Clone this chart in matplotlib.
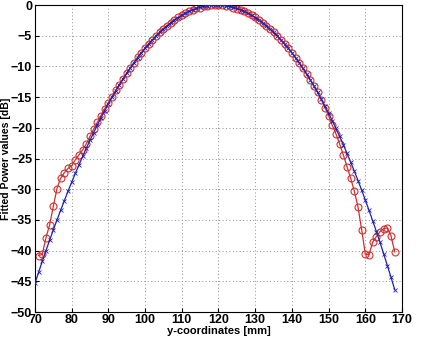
import matplotlib
matplotlib.use("Agg")
import matplotlib.pyplot as plt

# ---------------------------------------------------------
# DATA
# ---------------------------------------------------------

# fitted curve, 70..168 mm every 1 mm
fit_x = list(range(70, 169))
fit_db = [
    -45.33, -43.52, -41.74, -40.00, -38.30, -36.63, -35.01, -33.42, -31.86, -30.34,
    -28.86, -27.42, -26.02, -24.65, -23.31, -22.02, -20.76, -19.54, -18.36, -17.21,
    -16.10, -15.03, -13.99, -12.99, -12.03, -11.10, -10.22, -9.37, -8.55, -7.77,
    -7.03, -6.33, -5.67, -5.04, -4.44, -3.89, -3.37, -2.89, -2.45, -2.04,
    -1.67, -1.34, -1.04, -0.78, -0.56, -0.37, -0.23, -0.12, -0.04, 0.00,
    0.00, -0.04, -0.12, -0.23, -0.37, -0.56, -0.78, -1.04, -1.34, -1.67,
    -2.04, -2.45, -2.89, -3.37, -3.89, -4.44, -5.04, -5.67, -6.33, -7.03,
    -7.78, -8.58, -9.42, -10.30, -11.22, -12.18, -13.18, -14.23, -15.32, -16.45,
    -17.62, -18.84, -20.10, -21.40, -22.75, -24.13, -25.58, -27.06, -28.58, -30.14,
    -31.76, -33.43, -35.13, -36.88, -38.67, -40.54, -42.42, -44.36, -46.34,
]

# measured values, 71..168 mm every 1 mm
meas_x = list(range(71, 169))
meas_db = [
    -40.8, -40.6, -37.9, -35.8, -32.8, -29.9, -28.2, -27.3, -26.6,
    -26.2, -25.2, -24.4, -23.6, -22.6, -21.4, -20.2, -19.1, -18.0, -16.9,
    -15.9, -14.9, -13.9, -13.0, -12.0, -11.1, -10.2, -9.4, -8.5, -7.8,
    -7.0, -6.3, -5.7, -5.0, -4.4, -3.9, -3.4, -2.9, -2.4, -2.0,
    -1.7, -1.3, -1.0, -0.8, -0.5, -0.4, -0.2, -0.1, 0.0, 0.0,
    0.0, 0.0, -0.1, -0.2, -0.4, -0.6, -0.8, -1.0, -1.3, -1.7,
    -2.0, -2.4, -2.9, -3.4, -3.9, -4.4, -5.0, -5.7, -6.3, -7.0,
    -7.8, -8.6, -9.4, -10.3, -11.2, -12.2, -13.2, -14.2, -15.4, -16.7,
    -18.0, -19.6, -21.0, -22.6, -24.4, -26.3, -28.2, -30.3, -32.9, -36.6,
    -40.6, -40.7, -38.6, -37.7, -36.9, -36.4, -36.3, -37.6, -40.2,
]

x_ticks = list(range(70, 171, 10))
y_ticks = list(range(-50, 1, 5))

# ---------------------------------------------------------
# PLOT
# ---------------------------------------------------------

plt.rcParams["font.family"] = ["Liberation Sans", "DejaVu Sans"]

fig = plt.figure(figsize=(4.21, 3.37), dpi=100)
ax = fig.add_axes([0.083, 0.074, 0.872, 0.911])

ax.plot(meas_x, meas_db, color="#d03030", linewidth=0.9, marker="o",
        markersize=5.0, markerfacecolor="none", markeredgecolor="#d03030",
        markeredgewidth=0.8, zorder=2)
ax.plot(fit_x, fit_db, color="#2020b0", linewidth=0.9, marker="x",
        markersize=2.5, markeredgewidth=0.6, zorder=3)

ax.set_xlim(70, 170)
ax.set_ylim(-50, 0)
ax.set_xticks(x_ticks)
ax.set_yticks(y_ticks)
ax.grid(True, color="#909090", linestyle=(0, (1, 2.5)), linewidth=0.7)

ax.tick_params(direction="in", length=3, labelsize=9, pad=2)
ax.tick_params(axis="x", pad=1.5)
for lab in ax.get_xticklabels() + ax.get_yticklabels():
    lab.set_fontweight("bold")

ax.set_xlabel("y-coordinates [mm]", fontsize=8, fontweight="bold")
ax.set_ylabel("Fitted Power values [dB]", fontsize=7.6, fontweight="bold")
ax.xaxis.set_label_coords(0.5, -0.046)
ax.yaxis.set_label_coords(-0.066, 0.5)

for s in ax.spines.values():
    s.set_linewidth(0.8)

fig.savefig("out.png", dpi=100)
